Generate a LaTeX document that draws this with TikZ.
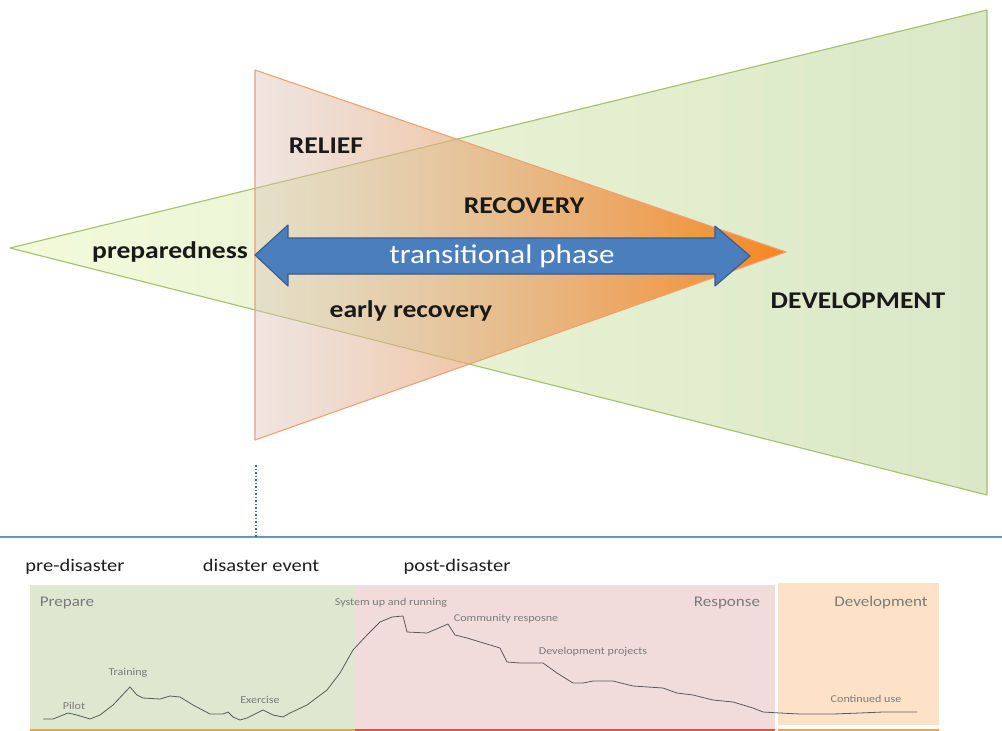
\documentclass[tikz,border=0pt]{standalone}
\usepackage{fontspec}
\setmainfont{Carlito}[FakeStretch=1.15]
\usetikzlibrary{fadings}
\definecolor{gLeft}{HTML}{F2FADA}
\definecolor{gMid}{HTML}{E4F4C0}
\definecolor{gRight}{HTML}{DAE8C8}
\definecolor{gBorder}{HTML}{A3C06A}
\definecolor{oLeft}{HTML}{DCC2B6}
\definecolor{oMid}{HTML}{E8913E}
\definecolor{oRight}{HTML}{F7861E}
\definecolor{oBorder}{HTML}{F0A070}
\definecolor{arrFill}{HTML}{4A7EBD}
\definecolor{arrBorder}{HTML}{375C8C}
\definecolor{lineBlue}{HTML}{6A93C6}
\definecolor{dotBlue}{HTML}{3F6BB0}
\definecolor{panGreen}{HTML}{DEE8D0}
\definecolor{panPink}{HTML}{F2DCDB}
\definecolor{panPeach}{HTML}{FDE2C8}
\definecolor{labGray}{HTML}{7A7A7A}
\definecolor{curveGray}{HTML}{5A5A5A}
\definecolor{stripOrange}{HTML}{F2A33A}
\definecolor{stripRed}{HTML}{EC4A48}
\tikzfading[name=ofade, left color=transparent!58, middle color=transparent!10, right color=transparent!0]
\begin{document}
\begin{tikzpicture}[x=1pt,y=-1pt,
  bigbold/.style={inner sep=0pt, anchor=base, font=\fontsize{24}{28}\selectfont\bfseries, text=black!90},
  head/.style={inner sep=0pt, anchor=base, font=\fontsize{17.8}{21}\selectfont, text=black!88},
  panlab/.style={inner sep=0pt, anchor=base, font=\fontsize{14.8}{18}\selectfont, text=labGray},
  small/.style={inner sep=0pt, anchor=base, font=\fontsize{10.5}{12}\selectfont, text=labGray},
  curve/.style={draw=curveGray, line width=0.8pt, line join=round}]
\useasboundingbox (0,0) rectangle (1002,731);
\fill[white] (0,0) rectangle (1002,731);

% green triangle
\path[left color=gLeft, middle color=gMid, right color=gRight]
  (10,248) -- (987,10) -- (987,495) -- cycle;
\draw[gBorder, line width=1.1pt, line join=round]
  (10,248) -- (987,10) -- (987,495) -- cycle;
% orange triangle
\path[left color=oLeft, middle color=oMid, right color=oRight, path fading=ofade]
  (255,70) -- (786,252) -- (255,440) -- cycle;
\draw[oBorder, line width=1.1pt, line join=round]
  (255,70) -- (786,252) -- (255,440) -- cycle;

% blue double arrow
\path[fill=arrFill, draw=arrBorder, line width=1.1pt, line join=round]
  (255,255) -- (288,225) -- (288,238) -- (715,238) -- (715,226) -- (750,256)
  -- (715,286) -- (715,274) -- (288,274) -- (288,286) -- cycle;
\node[inner sep=0pt, anchor=base, font=\fontsize{27}{30}\selectfont, text=white] (tp) at (502,263) {transitional phase};

\node[bigbold] (relief) at (326,153) {RELIEF};
\node[bigbold] (recovery) at (524,213) {RECOVERY};
\node[bigbold] (prep) at (170,258) {preparedness};
\node[bigbold] (early) at (411,317) {early recovery};
\node[bigbold] (dev) at (858,308) {DEVELOPMENT};

% timeline lines
\coordinate (dtop) at (256,465);
\coordinate (dbot) at (256,537);
\coordinate (hl) at (0,537);
\coordinate (hr) at (1002,537);
\draw[lineBlue, line width=1.3pt] (hl) -- (hr);
\draw[dotBlue, dotted, line width=1.5pt] (dtop) -- (dbot);

\node[head] (pre) at (75,571) {pre-disaster};
\node[head] (evt) at (261,571) {disaster event};
\node[head] (post) at (457,571) {post-disaster};

% panels
\fill[panGreen] (30,585) rectangle (355,729);
\fill[panPink] (355,585) rectangle (775,729);
\fill[panPeach] (778,583) rectangle (939,725);
\draw[stripOrange, line width=1.5pt] (30,730) -- (355,730);
\draw[stripRed, line width=1.5pt] (355,730) -- (775,730);
\draw[stripOrange, line width=1.5pt] (778,730) -- (939,730);

\node[panlab] (prepare) at (67,606) {Prepare};
\node[panlab] (response) at (727,606) {Response};
\node[panlab] (development) at (881,606) {Development};

\node[small] (pilot) at (74,709) {Pilot};
\node[small] (training) at (128,675) {Training};
\node[small] (exercise) at (260,703) {Exercise};
\node[small] (sys) at (391,605) {System up and running};
\node[small] (comm) at (506,621) {Community resposne};
\node[small] (devproj) at (593,654) {Development projects};
\node[small] (cont) at (866,702) {Continued use};

\draw[curve] plot coordinates {
 (43,719) (53,719) (68,713) (77,715) (90,719) (100,715) (113,705) (130,687)
 (137,695) (143,698) (160,699) (170,696) (180,697) (193,705) (210,714) (223,714)
 (228,712) (233,717) (240,720) (247,718) (263,710) (273,715) (283,717) (290,713)
 (307,705) (327,690) (340,673) (353,650) (367,635) (380,622) (392,617) (403,616)
 (407,632) (427,633) (448,624) (455,635) (467,638) (500,648) (507,662) (520,663)
 (543,663) (557,673) (573,683) (583,683) (593,681) (613,681) (633,686) (663,688)
 (677,693) (693,695) (713,700) (733,702) (753,708) (763,712) (780,713) (800,714)
 (833,714) (860,713) (883,712) (917,712)};
\end{tikzpicture}
\end{document}
